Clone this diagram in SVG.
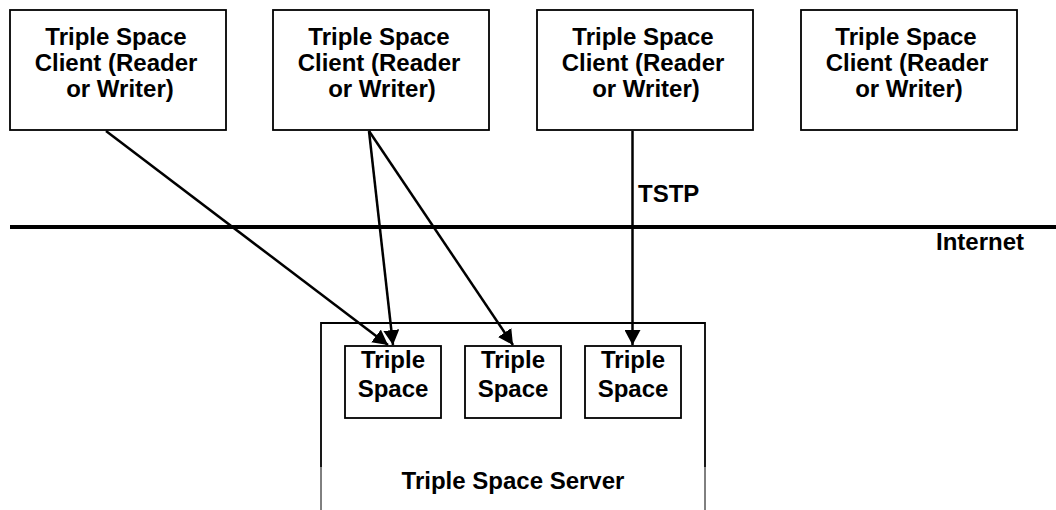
<svg xmlns="http://www.w3.org/2000/svg" width="1056" height="510" viewBox="0 0 1056 510">
<style>
.box{fill:#fff;stroke:#000;stroke-width:1.8}
.t{font-family:"Liberation Sans",Arial,sans-serif;font-weight:bold;font-size:24px;fill:#000;text-anchor:middle}
.tl{font-family:"Liberation Sans",Arial,sans-serif;font-weight:bold;font-size:24px;fill:#000}
.c{stroke:#000;stroke-width:2.5;fill:none;marker-end:url(#ah)}
</style>
<defs>
<marker id="ah" viewBox="0 0 15 16" refX="15" refY="8" markerWidth="15" markerHeight="16" orient="auto" markerUnits="userSpaceOnUse">
<path d="M0,0 L15,8 L0,16 z" fill="#000"/>
</marker>
</defs>
<rect width="1056" height="510" fill="#fff"/>
<g id="internet">
<line x1="10" y1="227" x2="1056" y2="227" stroke="#000" stroke-width="4"/>
<text class="tl" x="936" y="250">Internet</text>
</g>
<g id="server">
<path d="M321,467 L321,323 L705,323 L705,467" fill="none" stroke="#000" stroke-width="1.8"/>
<path d="M321,467 L321,510 M705,467 L705,510" fill="none" stroke="#000" stroke-width="1"/>
<text class="t" x="513" y="489">Triple Space Server</text>
</g>
<g id="client1">
<rect class="box" x="10" y="10" width="216" height="120"/>
<text class="t" x="116" y="45">Triple Space</text>
<text class="t" x="116" y="71">Client (Reader</text>
<text class="t" x="120" y="97">or Writer)</text>
</g>
<g id="client2">
<rect class="box" x="273" y="10" width="216" height="120"/>
<text class="t" x="379" y="45">Triple Space</text>
<text class="t" x="379" y="71">Client (Reader</text>
<text class="t" x="382" y="97">or Writer)</text>
</g>
<g id="client3">
<rect class="box" x="537" y="10" width="216" height="120"/>
<text class="t" x="643" y="45">Triple Space</text>
<text class="t" x="643" y="71">Client (Reader</text>
<text class="t" x="646" y="97">or Writer)</text>
</g>
<g id="client4">
<rect class="box" x="801" y="10" width="216" height="120"/>
<text class="t" x="906" y="45">Triple Space</text>
<text class="t" x="907" y="71">Client (Reader</text>
<text class="t" x="909" y="97">or Writer)</text>
</g>
<g id="space1">
<rect class="box" x="345" y="346" width="96" height="72"/>
<text class="t" x="393" y="368">Triple</text>
<text class="t" x="393" y="397">Space</text>
</g>
<g id="space2">
<rect class="box" x="465" y="346" width="96" height="72"/>
<text class="t" x="513" y="368">Triple</text>
<text class="t" x="513" y="397">Space</text>
</g>
<g id="space3">
<rect class="box" x="585" y="346" width="96" height="72"/>
<text class="t" x="633" y="368">Triple</text>
<text class="t" x="633" y="397">Space</text>
</g>
<g id="connectors">
<line class="c" x1="106" y1="131" x2="388" y2="345"/>
<line class="c" x1="369" y1="131" x2="393" y2="345"/>
<line class="c" x1="369" y1="131" x2="513" y2="345"/>
<line class="c" x1="632.5" y1="131" x2="632.5" y2="345"/>
<text class="tl" x="638" y="202">TSTP</text>
</g>
</svg>
